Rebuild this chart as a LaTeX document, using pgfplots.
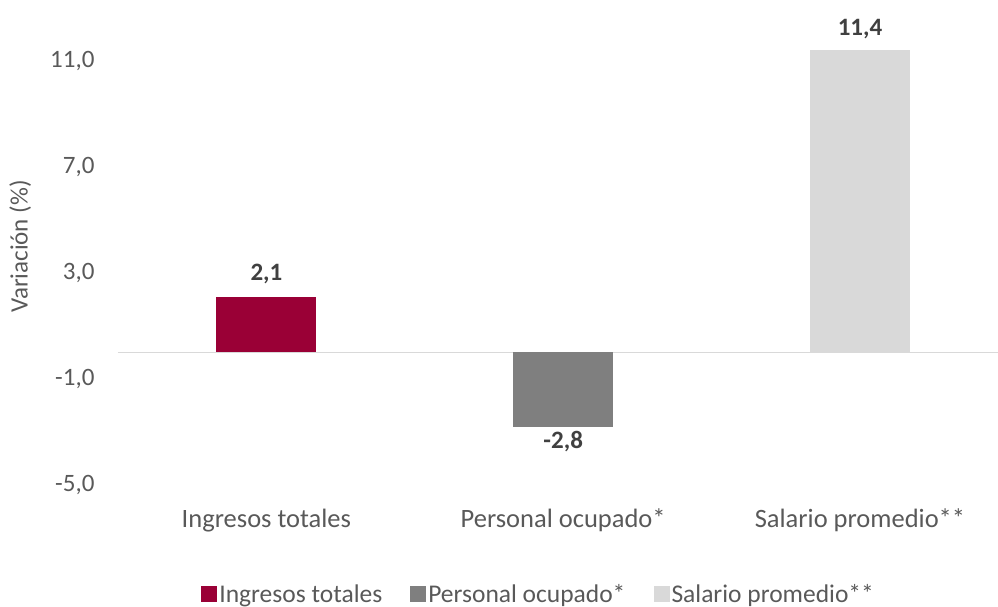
\documentclass[border=0pt]{standalone}
\usepackage{pgfplots}
\pgfplotsset{compat=1.18}
\usepackage{fontspec}
\setmainfont{Carlito}
\definecolor{cRed}{HTML}{9A0036}
\definecolor{cGray}{HTML}{7F7F7F}
\definecolor{cLight}{HTML}{D9D9D9}
\definecolor{cText}{HTML}{595959}
\definecolor{cLab}{HTML}{404040}
\begin{document}
\begin{tikzpicture}
\path[use as bounding box] (-118pt,-122pt) rectangle (880pt,485pt);
\begin{axis}[
  at={(0pt,0pt)}, anchor=south west,
  scale only axis,
  width=880pt, height=477pt,
  xmin=-0.5, xmax=2.465,
  ymin=-5, ymax=13,
  ytick={-5,-1,3,7,11},
  xtick={0,1,2},
  xticklabels={Ingresos totales,Personal ocupado*,Salario promedio**},
  axis line style={draw=none},
  tick style={draw=none},
  font=\fontsize{25}{30}\selectfont,
  tick label style={text=cText},
  /pgf/number format/.cd, assume math mode=true, fixed, fixed zerofill, precision=1, use comma,
  /pgfplots/.cd,
  yticklabel style={xshift=-20pt},
  xticklabel style={yshift=-16pt, font=\fontsize{26.5}{30}\selectfont},
  ylabel={Variación (\%)},
  every axis y label/.style={at={(axis description cs:-0.111,0.5)}, rotate=90, anchor=center, text=cText},
  extra y ticks={0},
  extra y tick labels={},
  extra y tick style={grid=major, major grid style={cLight, line width=1.5pt}},
  ybar, bar width=100pt,
  nodes near coords,
  nodes near coords style={font=\fontsize{25}{30}\selectfont\bfseries, text=cLab},
  legend style={at={(axis description cs:0.478,-0.229)}, anchor=center, draw=none, fill=none,
    legend columns=3, font=\fontsize{25.5}{30}\selectfont, text=cText,
    /tikz/every even column/.append style={column sep=26pt}},
  legend image code/.code={\fill[#1] (0pt,-8pt) rectangle (16pt,8pt);},
]
\addplot[fill=cRed, draw=none, bar shift=0pt, every node near coord/.append style={yshift=9pt}] coordinates {(0,2.1)};
\addplot[fill=cGray, draw=none, bar shift=0pt, every node near coord/.append style={yshift=-1pt}] coordinates {(1,-2.8)};
\addplot[fill=cLight, draw=none, bar shift=0pt, every node near coord/.append style={yshift=8pt}] coordinates {(2,11.4)};
\legend{Ingresos totales,Personal ocupado*,Salario promedio**}
\end{axis}
\end{tikzpicture}
\end{document}
